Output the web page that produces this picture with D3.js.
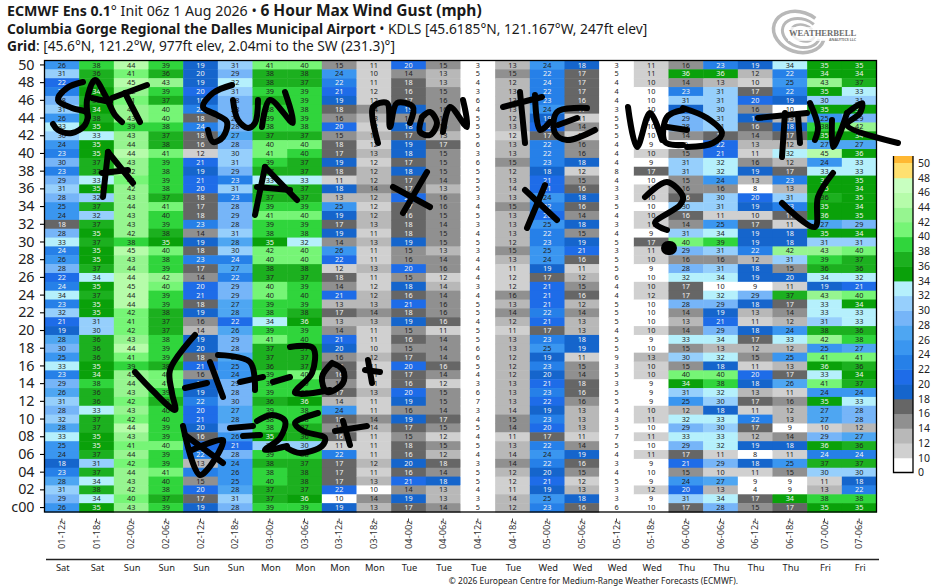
<!DOCTYPE html>
<html><head><meta charset="utf-8">
<script src="https://cdn.jsdelivr.net/npm/d3@7"></script>
<style>
html,body{margin:0;padding:0;background:#fff}
svg{display:block}
text{font-family:"Noto Sans",sans-serif}
</style></head><body><svg id="c" width="937" height="588"></svg>
<script>
// every value is listed from member 50 (top row) to the control member c00 (bottom row)
const rowLabels = d3.range(50,0,-1).map(d=>String(d).padStart(2,"0")).concat(["c00"]);
const timeLabels = ["01-12z","01-18z","02-00z","02-06z","02-12z","02-18z","03-00z","03-06z","03-12z","03-18z","04-00z","04-06z","04-12z","04-18z","05-00z","05-06z","05-12z","05-18z","06-00z","06-06z","06-12z","06-18z","07-00z","07-06z"];
const dayLabels = ["Sat","Sat","Sun","Sun","Sun","Sun","Mon","Mon","Mon","Mon","Tue","Tue","Tue","Tue","Wed","Wed","Wed","Wed","Thu","Thu","Thu","Thu","Fri","Fri"];
const t00=[25.6,31,21.6,23,28,31,25.6,33,30,24,23,29.6,23,29,31,28,25,24,17.6,28,33,23.6,25.6,28,21.6,23.6,33.6,23,31.6,21,19,27.6,29.6,25,33,23,29,26,31,28,31.6,27.6,33,25,24,18,23,27.6,31,29,25.6];
const t01=[38,36,36,34,36,34,37.6,35,33,35,35,37,37,33,35,31.6,37,31.6,37,35,37,35,35,37,33.6,35,37,35,35,31,30,36,36,36,35,34,38,36,36,33,37,37,35,35,37,31,37,33.6,37.6,33.6,35];
const t02=[44,41,45,42,41,43,43,39,43,43.6,44,43,42,41,42,43,43.6,43,43,42,38,45,43,43.6,44,45,44,44,41.6,41,41.6,43,44,41,39,43,43.6,43,41.6,43,41.6,44,43,41,43.6,41.6,43.6,43,42,40,43];
const t03=[39,36,43,39,37,40,40,38,37,37.6,41,39,38,39,38,37,41,39.6,39,37.6,35,40,38,39,42,40,39,39,37.6,37,37,38,39,39,37.6,40,41,39,37.6,39.6,39.6,39,39,40,39,39,41,39.6,38,37,39];
const t04=[19,19.6,19,20,18,22,17.6,23.6,17.6,16,11.6,21,19,21,20,17.6,17,17.6,23,14,19,17.6,23,17,14,20,21,17.6,19,15.6,13.6,19,19.6,17.6,21,15.6,18,19,22,20,21,19.6,16,20,22,13,23.6,15,20,17,19];
const t05=[31,29,32,31,28,28,28,28,27,28,30,31,29,23,31,23,28,29,28,31,27.6,30,23.6,27,22,29,29,27,27.6,21.6,26,29,28,26,25,24,29,28,29.6,27,27.6,28,25.6,21,28,24,25.6,25,27.6,31,28];
const t06=[41,37.6,37.6,39,37.6,38,39,38,37,40,41,39,37,33,37,37,39,41,39,38,35,41.6,40,37.6,37,40,40,39,38,33.6,39,41,37,37,36,39,39,39,36,39,38,38,35,30,39,37.6,38,39.6,37,37,39];
const t07=[40,37.6,37,39,39,38,39,38,37,40,39.6,37,37,33,37,37,39,40,39,38,32,40,40,37.6,37,39,39.6,39,37.6,35.6,39,39.6,37,37,37,40,39,39,35.6,38,38,37,36,30,38,37,37.6,37.6,37,35.6,39];
const t08=[15,24,22,21,19,17.6,15.6,20,15,17.6,17,19,17.6,11,18,13,25,19,17,19,14,25.6,21.6,11.6,17.6,14,21,13,17,13,14,21,19.6,15.6,16,16,15,17,13.6,24,17.6,14,16,11,22,17,17,17,21.6,9.6,19];
const t09=[11,10,11,11.6,11.6,14,13,11.6,12,11.6,13,11.6,12,12,14,12,11.6,12,13,11,13,11,11,13,11,11.6,12,13,14,13,11,11,10,12,11,11,11,13,11,11,14,13.6,11,11,11,12,11,13,9.6,14,13];
const t10=[20,14,17.6,16,17,19,15.6,18,17,19,18,17,18,17,17,21,17,16,17.6,17.6,19,15,15.6,20,15,18,16,21,17.6,19,15,16,15,17,20,17,16,20,19,15.6,19,17,15,17.6,16,19.6,16,21,14,19,17];
const t11=[15,13,13,15,15.6,15.6,15.6,15.6,13,17,15,15,15,14,13,15.6,15.6,15,14,15,15,13,14,15.6,11.6,13.6,14,15.6,15.6,16,11,14,14,14,16,14,11.6,15,15,14,17,15,11.6,15,12,17.6,14,18,13,13,14];
const t12=[3,5,4,3,6,4,5,5,5,6,3,6,5,5,5,3,4,5,3,4,5,3,4,4,4,3,4,5,5,4,5,5,6,6,5,4,3,6,7,3,4,5,4,5,4,3,5,5,4,3,5];
const t13=[13,15,12,13,13,13,12,13,11.6,13,13,15,12,13,13.6,13,15,13,13,13,12,15,13,11,11.6,11.6,15.6,13,14,12,11,13,13,12,12,12,13,13,13,13.6,15,14,11,13,13.6,14,12,11.6,11,13.6,12];
const t14=[24,22,23.6,22,23,24,19,21.6,17,22,22,23,18,21,21,24,22,20,25,22,23,25,24,19,17,21,21,21,22,21,17,23,25,19,23,19.6,21,23,21.6,19,23,20,17,22,24,22,19.6,21,19,25,23];
const t15=[18,17,17,17,16,17,11,14,11,15.6,15.6,18,11.6,15,16,18,16,14,18,15,19,21,16,11,12,15,16,12,14,13,13,18,19,11,15,14,17.6,16,15.6,13,13,13,11,14,19,16,15,11.6,13,18,16];
const t16=[3,5,4,4,4,3,5,5,5,4,4,4,8,4,3,3,5,4,3,4,5,3,5,5,6,4,4,5,5,5,4,5,5,9,3,5,3,5,5,4,3,5,7,5,4,3,4,5,3,3,6];
const t17=[11,11,10,9.6,9.6,9.6,9.6,9.6,9.6,9,10,9,17,9.6,11,10,9.6,10,11,9,17,11,10,9,9.6,10,11.6,9.6,9.6,9.6,10,9,9.6,13,10,10,9,9,9,10,11,9.6,11,9.6,11,9,9.6,9,11.6,9,9.6];
const t18=[15.6,35.6,14,23,31,18,29,28,14,9,15,31,31,15,15.6,16,30,16,14,31,40,29,15.6,28,32,17,17,28,14,13,14,33,15,30,15,40,34,31,25,12,32,29,33,29,17,21,15,24,20,31,17];
const t19=[23,35.6,13,31,31,30,31,31,17,21.6,21,32,32,24,15.6,30,31,11,25,33.6,39,31,15.6,31,33.6,9.6,32,29,19,21,29,33.6,13,32,18,40,38,32,30,18,33,30,33,32,11,29,10,27,13,33.6,28];
const t20=[19,12,10,17,20,15.6,19,16,14,13,11,15.6,19,13,8,20,19,10,17,19,19,22,12,18,19,9,29,18,13,11,18,17,12,15,11,20,18,13,17,11,22,17,12,19,8,18,11,9,4,17,15];
const t21=[33.6,22,25,22,19,9.6,13,18,17,12,32,12,17,23,13,31,23,17,11,18,18,42,31,15,19.6,11,37,17,14,12,24,33,12,25,13,17,26,11,15.6,12,13,9,14,18,11,25,15,9,9,34,17];
const t22=[35,34,43,35,30,35,25,38,35,27,45,24,33,35,35,36,35,35.6,27,35,31,43,39,36,33.6,19,43,33,33,31,37.6,42,25,41,35.6,33,41,24,35,27,27,10,29,35.6,23.6,37,30,11,13,38,35];
const t23=[35,34,37,33,31,35,29,42,34,27,35.6,33,33,35,34,35,34,35,29,34,31,40,37,36,32,21,40,34,33,33,36,38,27,41,36,34,37,24,33,28,28,12,27,36,23.6,37,30,18,22,38,35];
const timeValues = [t00,t01,t02,t03,t04,t05,t06,t07,t08,t09,t10,t11,t12,t13,t14,t15,t16,t17,t18,t19,t20,t21,t22,t23];
const bandEdges = [10,12,14,16,18,20,22,24,26,28,30,32,34,36,38,40,42,44,46,48,50];
const bandColors = ["#ffffff","#d0d0d0","#b8b8b8","#909090","#666666","#1565cc","#1e6ce8","#2680e8","#3a96f0","#4ea6f2","#76b5f8","#96cffc","#b5f0fc","#0aa10a","#1cb01f","#30d53c","#76f576","#96f590","#b6fcaa","#c8ffc0","#ffe070","#ffb833"];
const lightText = new Set([4,5,6,7,13]);
const legendTicks = [0].concat(bandEdges);
// hand-drawn pen strokes written over the chart
const pen = [
 [[83,82],[67,88],[58,100],[72,108],[87,113],[85,125],[72,133],[58,130],[53,124]],
 [[88,117],[87,100],[95,80],[105,95],[115,115],[122,122]],[[92,98],[110,102]],
 [[112,98],[147,85]],[[125,93],[140,122]],
 [[232,85],[213,93],[203,107],[217,115],[227,122],[223,137],[213,142],[208,130]],
 [[233,100],[238,120],[248,128],[255,123],[258,100]],
 [[262,127],[270,100],[293,123],[285,92]],
 [[378,143],[373,107],[387,103],[390,127],[397,103],[413,107],[410,123]],
 [[422,117],[430,112],[437,123],[430,135],[420,132],[422,117]],
 [[443,132],[450,107],[467,127],[463,100]],
 [[503,107],[542,97]],[[520,92],[525,143]],
 [[535,95],[540,130],[550,122]],
 [[587,108],[557,112],[555,133],[567,140],[595,130]],[[558,125],[577,118]],
 [[628,107],[637,147],[650,113],[662,140]],
 [[683,110],[667,117],[665,142],[683,145]],[[667,127],[687,130]],
 [[683,108],[707,118],[722,133],[713,143],[687,147]],
 [[758,118],[807,113]],[[785,113],[782,157]],
 [[798,115],[800,143]],[[810,103],[818,127],[815,140]],
 [[832,120],[833,147],[840,133],[847,113]],
 [[847,113],[862,103],[860,113],[847,125],[898,143]],
 [[108,152],[103,197]],[[108,152],[133,183]],[[102,173],[128,170]],
 [[265,167],[255,215]],[[265,167],[297,200]],[[257,187],[290,190]],
 [[427,172],[403,213]],[[393,187],[430,207]],
 [[545,185],[527,228]],[[525,190],[557,220]],
 [[645,197],[667,182],[683,197],[680,205],[655,223],[667,230]],
 [[668,248],[670,248]],
 [[833,173],[818,197],[815,227],[782,203]],
 [[195,335],[170,370],[172,393],[175,410],[153,391],[135,372]],
 [[185,388],[207,383]],[[210,362],[223,397]],
 [[218,355],[250,362],[255,390]],[[240,382],[263,377]],[[273,382],[290,377]],
 [[290,347],[313,348],[312,373],[295,393],[330,390]],
 [[332,363],[322,377],[327,392],[343,383],[343,370],[332,363]],
 [[368,360],[372,383]],[[365,370],[380,372]],
 [[183,426],[200,475],[223,440],[192,450]],[[185,435],[223,463]],
 [[230,428],[253,426]],[[243,436],[260,435]],
 [[257,421],[272,415],[285,421],[280,438],[265,450],[287,446]],
 [[318,413],[295,423],[303,431],[325,438],[322,446],[300,453],[287,448]],
 [[343,421],[350,445]],[[335,431],[367,426]]
];

const svg = d3.select("#c");
const x = d3.scaleBand().domain(timeLabels).range([44.5,876.5]);
const y = d3.scaleBand().domain(rowLabels).range([60.5,512]);
const color = d3.scaleThreshold().domain(bandEdges).range(bandColors);
const bandIndex = d3.scaleThreshold().domain(bandEdges).range(d3.range(bandColors.length));
const cells = timeValues.flatMap((col,i)=>col.map((v,j)=>({t:timeLabels[i],r:rowLabels[j],v})));

svg.append("g").selectAll("rect").data(cells).join("rect")
  .attr("x",d=>x(d.t)).attr("y",d=>y(d.r))
  .attr("width",x.bandwidth()+.5).attr("height",y.bandwidth()+.5)
  .attr("fill",d=>color(d.v));
svg.append("g").selectAll("text").data(cells).join("text")
  .attr("x",d=>x(d.t)+x.bandwidth()/2).attr("y",d=>y(d.r)+y.bandwidth()/2+2.6)
  .attr("text-anchor","middle").attr("font-size",7.3)
  .attr("fill",d=>lightText.has(bandIndex(d.v))?"#f2f2f2":"#222")
  .text(d=>Math.round(d.v));

// frame
svg.append("rect").attr("x",44.5).attr("y",60.5).attr("width",832).attr("height",451.5)
  .attr("fill","none").attr("stroke","#000").attr("stroke-width",1.3);

// y axis
const yAxis = d3.axisLeft(y).tickValues(rowLabels.filter((d,i)=>i%2===0)).tickSize(4.5).tickPadding(5.5);
const gy = svg.append("g").attr("transform","translate(44.5,0)").call(yAxis);
gy.select(".domain").remove();
gy.selectAll("line").attr("stroke","#000").attr("stroke-width",1.1);
gy.selectAll("text").attr("font-size",14.3).attr("fill","#222").style("font-family",'"Noto Sans",sans-serif');

// x labels
svg.append("g").selectAll("text").data(timeLabels).join("text")
  .attr("transform",d=>`translate(${x(d)+x.bandwidth()/2+3.2},549) rotate(-90)`)
  .attr("font-size",9.3).attr("fill","#333").text(d=>d);
svg.append("g").selectAll("line").data(timeLabels).join("line")
  .attr("x1",d=>x(d)+x.bandwidth()/2).attr("x2",d=>x(d)+x.bandwidth()/2)
  .attr("y1",518.5).attr("y2",521.5).attr("stroke","#444").attr("stroke-width",1);
svg.append("line").attr("x1",46).attr("x2",879).attr("y1",559.5).attr("y2",559.5).attr("stroke","#222").attr("stroke-width",1.3);
svg.append("g").selectAll("text").data(dayLabels.map((d,i)=>({d,i}))).join("text")
  .attr("x",d=>x(timeLabels[d.i])+x.bandwidth()/2+1).attr("y",571)
  .attr("text-anchor","middle").attr("font-size",9.3).attr("fill","#222").text(d=>d.d);
svg.append("text").attr("x",593.5).attr("y",584).attr("text-anchor","middle").attr("font-size",8.45).attr("fill","#222")
  .text("© 2026 European Centre for Medium-Range Weather Forecasts (ECMWF).");

// titles
const title = svg.append("g").attr("fill","#1a1a1a");
const t1 = title.append("text").attr("x",7).attr("y",16).attr("font-size",14.2);
t1.append("tspan").attr("font-weight",700).text("ECMWF Ens 0.1");
t1.append("tspan").text("° Init 06z 1 Aug 2026 • ");
t1.append("tspan").attr("font-weight",700).attr("font-size",15.5).text("6 Hour Max Wind Gust (mph)");
const t2 = title.append("text").attr("x",7).attr("y",33.5).attr("font-size",13.75);
t2.append("tspan").attr("font-weight",700).text("Columbia Gorge Regional the Dalles Municipal Airport");
t2.append("tspan").text(" • KDLS [45.6185°N, 121.167°W, 247ft elev]");
const t3 = title.append("text").attr("x",7).attr("y",51).attr("font-size",13.75);
t3.append("tspan").attr("font-weight",700).text("Grid");
t3.append("tspan").text(": [45.6°N, 121.2°W, 977ft elev, 2.04mi to the SW (231.3)°]");

// colour bar
const ly = d3.scalePoint().domain(legendTicks.map(String)).range([472.5,163]);
const step = ly.step();
svg.append("g").selectAll("rect").data(bandColors).join("rect")
  .attr("x",893.5).attr("width",19.5)
  .attr("y",(d,i)=>i===bandColors.length-1?156:ly(String(legendTicks[i+1])))
  .attr("height",(d,i)=>i===bandColors.length-1?7:step+.5)
  .attr("fill",d=>d);
svg.append("path").attr("d",`M893.5,156V472.5H913V156`).attr("fill","none").attr("stroke","#000").attr("stroke-width",1.3);
svg.append("g").selectAll("text").data(legendTicks).join("text")
  .attr("x",918).attr("y",d=>ly(String(d))+3.8).attr("font-size",10.5).attr("fill","#222").text(d=>d);

// logo
const logo = svg.append("g").attr("fill","none").attr("stroke","#b8b8b8");
[[799,32,26,20,3.5],[801,33,19,14,3],[803,33,12,8,2.5]].forEach(e=>{
  logo.append("ellipse").attr("cx",e[0]).attr("cy",e[1]).attr("rx",e[2]).attr("ry",e[3]).attr("stroke-width",e[4])
   .attr("stroke-dasharray",`${e[2]*4.6} ${e[2]*1.0}`)
   .attr("transform",`rotate(18 ${e[0]} ${e[1]})`);
});
svg.append("rect").attr("x",788).attr("y",27).attr("width",74).attr("height",14).attr("fill","#fff").attr("opacity",.75);
svg.append("text").attr("x",789).attr("y",36).attr("font-size",8.6).attr("font-weight",700).attr("fill","#6e6e6e")
  .style("font-family",'"Liberation Serif",serif').text("WEATHERBELL");
svg.append("text").attr("x",829).attr("y",41).attr("font-size",3.6).attr("font-weight",700).attr("fill","#777").text("ANALYTICS LLC");

// pen
const line = d3.line().curve(d3.curveCatmullRom.alpha(.5));
svg.append("g").selectAll("path").data(pen).join("path")
  .attr("d",d=>line(d)).attr("fill","none").attr("stroke","#000")
  .attr("stroke-width",d=>d.length===2&&d[0][1]===248?14:6).attr("stroke-linecap","round").attr("stroke-linejoin","round");
</script></body></html>
